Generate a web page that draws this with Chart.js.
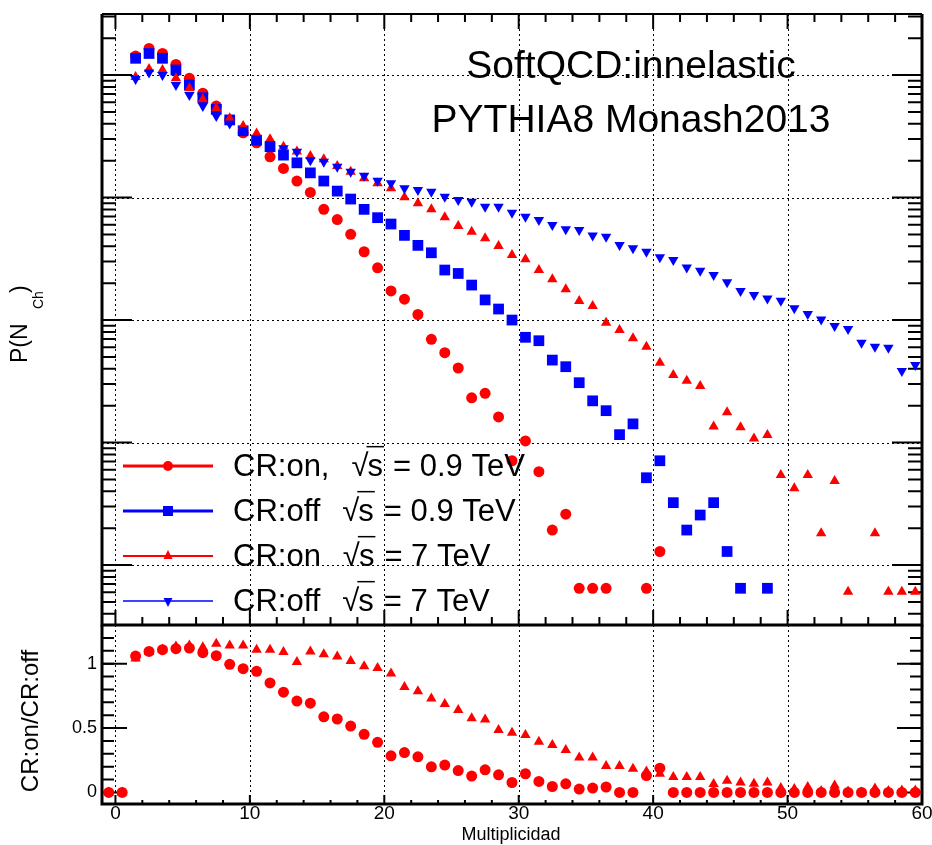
<!DOCTYPE html>
<html>
<head>
<meta charset="utf-8">
<title>P(N_Ch) CR:on / CR:off</title>
<script src="https://cdn.jsdelivr.net/npm/chart.js"></script>
<style>
  body { margin: 0; background: #fff; }
  #wrap { position: relative; width: 932px; height: 845px; }
  #wrap canvas { position: absolute; left: 0; top: 0; }
</style>
</head>
<body>
<div id="wrap">
  <canvas id="pnch" width="932" height="845"></canvas>
  <canvas id="ratio" width="932" height="845"></canvas>
</div>
<script>
// centros de bin (multiplicidad)
const multiplicidad = [
  -0.5, 0.5, 1.5, 2.5, 3.5, 4.5, 5.5, 6.5, 7.5, 8.5,
  9.5, 10.5, 11.5, 12.5, 13.5, 14.5, 15.5, 16.5, 17.5, 18.5,
  19.5, 20.5, 21.5, 22.5, 23.5, 24.5, 25.5, 26.5, 27.5, 28.5,
  29.5, 30.5, 31.5, 32.5, 33.5, 34.5, 35.5, 36.5, 37.5, 38.5,
  39.5, 40.5, 41.5, 42.5, 43.5, 44.5, 45.5, 46.5, 47.5, 48.5,
  49.5, 50.5, 51.5, 52.5, 53.5, 54.5, 55.5, 56.5, 57.5, 58.5,
  59.5
];

// P(N_Ch), CR:on, sqrt(s) = 0.9 TeV
const crOn09 = [
  null, null, 0.143, 0.165, 0.150, 0.122, 0.094, 0.071, 0.0558, 0.0430,
  0.0338, 0.0280, 0.0215, 0.0173, 0.01364, 0.01102, 0.00801, 0.00661, 0.00501, 0.00361,
  0.00267, 0.00173, 0.00148, 0.00111, 0.000696, 0.000541, 0.000406, 0.000232, 0.000252, 0.000162,
  7.1e-5, 1.03e-4, 5.78e-5, 1.93e-5, 2.6e-5, 6.46e-6, 6.46e-6, 6.46e-6, null, null,
  6.46e-6, 1.29e-5, null, null, null, null, null, null, null, null,
  null, null, null, null, null, null, null, null, null, null,
  null
];

// P(N_Ch), CR:off, sqrt(s) = 0.9 TeV
const crOff09 = [
  null, null, 0.137, 0.150, 0.137, 0.110, 0.0829, 0.0653, 0.0525, 0.0430,
  0.0351, 0.0294, 0.0260, 0.0222, 0.0192, 0.0159, 0.01364, 0.01129, 0.00972, 0.00801,
  0.00685, 0.00608, 0.00491, 0.00407, 0.00354, 0.00256, 0.00240, 0.00193, 0.00146, 0.00123,
  0.00100, 0.000723, 0.000678, 0.000471, 0.000416, 0.000308, 0.000219, 0.000182, 0.000116, 0.000142,
  5.16e-5, 7.1e-5, 3.23e-5, 1.93e-5, 2.56e-5, 3.23e-5, 1.29e-5, 6.46e-6, null, 6.46e-6,
  null, null, null, null, null, null, null, null, null, null,
  null
];

// P(N_Ch), CR:on, sqrt(s) = 7 TeV
const crOn7 = [
  null, null, 0.0964, 0.112, 0.110, 0.094, 0.0779, 0.0634, 0.0535, 0.0444,
  0.0384, 0.0334, 0.0299, 0.0260, 0.0238, 0.0218, 0.0205, 0.0181, 0.01625, 0.01435,
  0.01306, 0.01189, 0.01004, 0.00897, 0.00801, 0.00689, 0.00585, 0.00526, 0.00465, 0.00402,
  0.00339, 0.00313, 0.00256, 0.00215, 0.00178, 0.00143, 0.00130, 0.000951, 0.000828, 0.000709,
  0.000606, 0.000448, 0.000356, 0.000319, 0.000289, 0.000135, 0.000177, 0.000133, 0.000108, 0.000115,
  5.43e-5, 4.23e-5, 5.43e-5, 1.82e-5, 4.85e-5, 6.06e-6, null, 1.82e-5, 6.06e-6, 6.06e-6,
  6.06e-6
];

// P(N_Ch), CR:off, sqrt(s) = 7 TeV
const crOff7 = [
  null, null, 0.0927, 0.105, 0.100, 0.0829, 0.0687, 0.0558, 0.0463, 0.0403,
  0.0356, 0.0304, 0.0273, 0.0252, 0.0237, 0.0202, 0.0196, 0.0178, 0.01625, 0.01507,
  0.01371, 0.01306, 0.01189, 0.0115, 0.01115, 0.01016, 0.00955, 0.00925, 0.00842, 0.00842,
  0.00751, 0.00697, 0.00655, 0.00597, 0.00550, 0.00543, 0.00491, 0.00478, 0.00409, 0.00385,
  0.00361, 0.00325, 0.00309, 0.00269, 0.00252, 0.00233, 0.00203, 0.00173, 0.00160, 0.00150,
  0.00144, 0.00125, 0.00112, 0.00101, 0.000893, 0.000845, 0.000653, 0.000606, 0.000593, 0.000384,
  0.000430
];

// cociente CR:on / CR:off
const ratio09 = [
  0, 0, 1.059, 1.095, 1.108, 1.116, 1.121, 1.085, 1.062, 0.995,
  0.961, 0.940, 0.850, 0.778, 0.709, 0.693, 0.587, 0.570, 0.515, 0.451,
  0.389, 0.284, 0.309, 0.276, 0.199, 0.212, 0.170, 0.127, 0.175, 0.137,
  0.077, 0.145, 0.085, 0.046, 0.067, 0.026, 0.034, 0.042, 0, 0,
  0.131, 0.188, 0, 0, 0, 0, 0, 0, 0, 0,
  0, 0, 0, 0, 0, 0, 0, 0, 0, 0,
  0
];
const ratio7 = [
  0, 0, 1.04, 1.09, 1.11, 1.134, 1.141, 1.128, 1.154, 1.141,
  1.141, 1.108, 1.108, 1.090, 1.012, 1.095, 1.072, 1.056, 1.020, 0.979,
  0.966, 0.923, 0.819, 0.786, 0.730, 0.686, 0.639, 0.575, 0.567, 0.485,
  0.464, 0.446, 0.394, 0.369, 0.330, 0.271, 0.271, 0.206, 0.206, 0.183,
  0.162, 0.145, 0.119, 0.119, 0.119, 0.065, 0.090, 0.077, 0.067, 0.077,
  0.034, 0.026, 0.042, 0.010, 0.054, 0.007, 0, 0.030, 0.010, 0.015,
  0.015
];

const xTickLabels = [0, 10, 20, 30, 40, 50, 60];
const ratioTickLabels = [0, 0.5, 1];
const legendLabels = [
  ['CR:on,', '= 0.9 TeV'],
  ['CR:off', '= 0.9 TeV'],
  ['CR:on', '= 7 TeV'],
  ['CR:off', '= 7 TeV']
];

const FONT = '"Liberation Sans", Arial, Helvetica, sans-serif';
const RED = '#ff0000', BLUE = '#0000ff';
Chart.defaults.font.family = FONT;
Chart.defaults.color = '#000';

function pts(arr) {
  const out = [];
  multiplicidad.forEach((x, i) => { if (arr[i] !== null) out.push({ x: x, y: arr[i] }); });
  return out;
}

// rejilla punteada en x
function vGrid(ctx, sx, a) {
  ctx.save();
  ctx.strokeStyle = '#000'; ctx.lineWidth = 1; ctx.setLineDash([2, 3]);
  ctx.beginPath();
  xTickLabels.forEach(v => {
    const px = Math.round(sx.getPixelForValue(v)) + 0.5;
    if (px > a.left + 2 && px < a.right - 2) { ctx.moveTo(px, a.top); ctx.lineTo(px, a.bottom); }
  });
  ctx.stroke();
  ctx.restore();
}

// marcas de eje hacia dentro
function xMarks(ctx, sx, a, edge, major, minor) {
  ctx.beginPath();
  for (let v = 0; v <= 60; v += 2) {
    const px = sx.getPixelForValue(v);
    const len = v % 10 === 0 ? major : minor;
    if (edge === 'top') { ctx.moveTo(px, a.top); ctx.lineTo(px, a.top + len); }
    else { ctx.moveTo(px, a.bottom); ctx.lineTo(px, a.bottom - len); }
  }
  ctx.stroke();
}
function yMarks(ctx, sy, a, vals, len) {
  ctx.beginPath();
  vals.forEach(v => {
    const py = sy.getPixelForValue(v);
    if (py < a.top - 0.5 || py > a.bottom + 0.5) return;
    ctx.moveTo(a.left, py); ctx.lineTo(a.left + len, py);
    ctx.moveTo(a.right, py); ctx.lineTo(a.right - len, py);
  });
  ctx.stroke();
}
function frame(ctx, a) {
  ctx.lineWidth = 3;
  ctx.beginPath();
  ctx.moveTo(a.left, a.top); ctx.lineTo(a.left, a.bottom); ctx.lineTo(a.right, a.bottom); ctx.lineTo(a.right, a.top);
  ctx.stroke();
  ctx.lineWidth = 2;
  ctx.beginPath(); ctx.moveTo(a.left, a.top); ctx.lineTo(a.right, a.top); ctx.stroke();
}

const topFrame = {
  id: 'topFrame',
  beforeDatasetsDraw(chart) {
    const { ctx, chartArea: a, scales: { x, y } } = chart;
    vGrid(ctx, x, a);
    ctx.save();
    ctx.strokeStyle = '#000'; ctx.lineWidth = 1; ctx.setLineDash([2, 3]);
    ctx.beginPath();
    for (let e = -5; e <= -1; e++) {
      const py = Math.round(y.getPixelForValue(Math.pow(10, e))) + 0.5;
      ctx.moveTo(a.left, py); ctx.lineTo(a.right, py);
    }
    ctx.stroke();
    ctx.setLineDash([]);
    ctx.lineWidth = 2;
    const majors = [], minors = [];
    for (let e = -6; e <= -1; e++) {
      majors.push(Math.pow(10, e));
      for (let k = 2; k <= 9; k++) minors.push(k * Math.pow(10, e));
    }
    yMarks(ctx, y, a, majors, 30);
    yMarks(ctx, y, a, minors, 14);
    xMarks(ctx, x, a, 'top', 15, 8);
    xMarks(ctx, x, a, 'bottom', 15, 8);
    frame(ctx, a);
    ctx.restore();
  },
  afterDatasetsDraw(chart) {
    const ctx = chart.ctx;
    ctx.save();
    ctx.fillStyle = '#000';
    ctx.font = '39px ' + FONT;
    ctx.textAlign = 'center';
    ctx.fillText('SoftQCD:innelastic', 631, 78);
    ctx.fillText('PYTHIA8 Monash2013', 631, 132);

    // leyenda
    const rows = [466, 511, 556, 601];
    const cols = [RED, BLUE, RED, BLUE];
    const lws = [3, 3, 2, 1.5];
    rows.forEach((ly, i) => {
      ctx.strokeStyle = cols[i]; ctx.fillStyle = cols[i]; ctx.lineWidth = lws[i];
      ctx.beginPath(); ctx.moveTo(123, ly); ctx.lineTo(213, ly); ctx.stroke();
      ctx.beginPath();
      if (i === 0) ctx.arc(168, ly, 5, 0, Math.PI * 2);
      else if (i === 1) ctx.rect(163, ly - 5, 10, 10);
      else if (i === 2) { ctx.moveTo(168, ly - 6); ctx.lineTo(172.5, ly + 3); ctx.lineTo(163.5, ly + 3); }
      else { ctx.moveTo(168, ly + 6); ctx.lineTo(172.5, ly - 3); ctx.lineTo(163.5, ly - 3); }
      ctx.closePath(); ctx.fill();

      const fs = 31, base = ly + 9.5;
      ctx.fillStyle = '#000'; ctx.strokeStyle = '#000';
      ctx.font = fs + 'px ' + FONT; ctx.textAlign = 'left';
      const [pre, post] = legendLabels[i];
      ctx.fillText(pre, 233, base);
      let xx = 233 + ctx.measureText(pre).width + 22;
      ctx.fillText('\u221A', xx, base);
      xx += ctx.measureText('\u221A').width - 1;
      const sW = ctx.measureText('s').width;
      ctx.fillText('s', xx, base);
      ctx.lineWidth = 1.5;
      ctx.beginPath(); ctx.moveTo(xx - 1, base - fs * 0.93); ctx.lineTo(xx + sW + 1, base - fs * 0.93); ctx.stroke();
      ctx.fillText(post, xx + sW + 10, base);
    });

    // titulo eje y
    ctx.save();
    ctx.translate(27, 363);
    ctx.rotate(-Math.PI / 2);
    ctx.textAlign = 'left';
    ctx.font = '23px ' + FONT;
    ctx.fillText('P(N', 0, 0);
    ctx.fillText(')', 70, 0);
    ctx.font = '14px ' + FONT;
    ctx.fillText('Ch', 54, 16);
    ctx.restore();
    ctx.restore();
  }
};

const ratioFrame = {
  id: 'ratioFrame',
  beforeDatasetsDraw(chart) {
    const { ctx, chartArea: a, scales: { x, y } } = chart;
    vGrid(ctx, x, a);
    ctx.save();
    ctx.strokeStyle = '#000'; ctx.lineWidth = 2;
    const minors = [];
    for (let k = 0; k <= 12; k++) minors.push(k / 10);
    yMarks(ctx, y, a, minors, 12);
    yMarks(ctx, y, a, ratioTickLabels, 25);
    xMarks(ctx, x, a, 'bottom', 9, 4);
    frame(ctx, a);
    ctx.restore();
  },
  afterDraw(chart) {
    const ctx = chart.ctx;
    ctx.save();
    ctx.fillStyle = '#000';
    ctx.font = '18px ' + FONT;
    ctx.textAlign = 'center';
    ctx.fillText('Multiplicidad', 511, 840);
    ctx.translate(38, 721);
    ctx.rotate(-Math.PI / 2);
    ctx.font = '24px ' + FONT;
    ctx.fillText('CR:on/CR:off', 0, 0);
    ctx.restore();
  }
};

const hidden = { display: false };

new Chart(document.getElementById('pnch'), {
  type: 'scatter',
  data: {
    datasets: [
      { label: 'CR:on, 0.9 TeV', data: pts(crOn09), pointStyle: 'circle', pointRadius: 5.5,
        backgroundColor: RED, borderColor: RED, borderWidth: 0, order: 4 },
      { label: 'CR:off 0.9 TeV', data: pts(crOff09), pointStyle: 'rect', pointRadius: 7.6,
        backgroundColor: BLUE, borderColor: BLUE, borderWidth: 0, order: 3 },
      { label: 'CR:on 7 TeV', data: pts(crOn7), pointStyle: 'triangle', pointRadius: 6,
        backgroundColor: RED, borderColor: RED, borderWidth: 0, order: 2 },
      { label: 'CR:off 7 TeV', data: pts(crOff7), pointStyle: 'triangle', pointRotation: 180, pointRadius: 6,
        backgroundColor: BLUE, borderColor: BLUE, borderWidth: 0, order: 1 }
    ]
  },
  options: {
    responsive: false,
    animation: false,
    events: [],
    layout: { padding: { left: 102, right: 10, top: 14, bottom: 220 } },
    plugins: { legend: hidden, tooltip: { enabled: false } },
    scales: {
      x: { type: 'linear', min: -1, max: 60, display: false },
      y: { type: 'logarithmic', min: 3.24e-6, max: 0.315, display: false }
    }
  },
  plugins: [topFrame]
});

new Chart(document.getElementById('ratio'), {
  type: 'scatter',
  data: {
    datasets: [
      { label: '0.9 TeV', data: pts(ratio09), pointStyle: 'circle', pointRadius: 5.5,
        backgroundColor: RED, borderColor: RED, borderWidth: 0, order: 1 },
      { label: '7 TeV', data: pts(ratio7), pointStyle: 'triangle', pointRadius: 6,
        backgroundColor: RED, borderColor: RED, borderWidth: 0, order: 2 }
    ]
  },
  options: {
    responsive: false,
    animation: false,
    events: [],
    layout: { padding: { left: 52, right: 10, top: 625, bottom: 1 } },
    plugins: { legend: hidden, tooltip: { enabled: false } },
    scales: {
      x: {
        type: 'linear', min: -1, max: 60,
        afterBuildTicks: s => { s.ticks = xTickLabels.map(v => ({ value: v })); },
        afterFit: s => { s.height = 40; s.paddingLeft = 0; s.paddingRight = 0; },
        ticks: { font: { size: 19 }, padding: -2, maxRotation: 0, autoSkip: false },
        grid: { display: false, drawTicks: false },
        border: { display: false }
      },
      y: {
        type: 'linear', min: -0.09, max: 1.3,
        afterBuildTicks: s => { s.ticks = ratioTickLabels.map(v => ({ value: v })); },
        afterFit: s => { s.width = 50; s.paddingTop = 0; s.paddingBottom = 0; },
        ticks: { font: { size: 18 }, padding: 5, callback: v => String(v) },
        grid: { display: false, drawTicks: false },
        border: { display: false }
      }
    }
  },
  plugins: [ratioFrame]
});
</script>
</body>
</html>
